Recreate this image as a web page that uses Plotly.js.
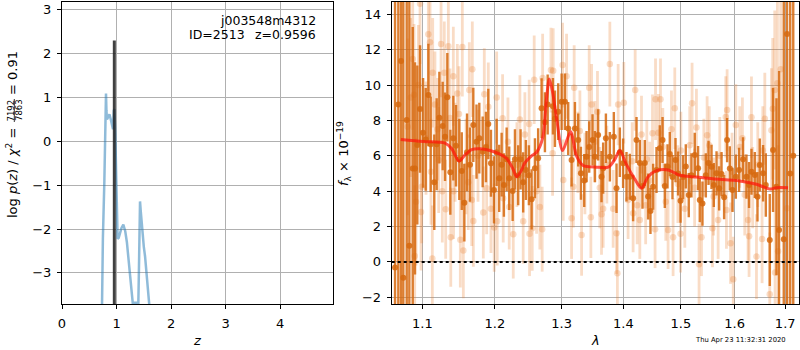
<!DOCTYPE html>
<html><head><meta charset="utf-8">
<script src="https://cdn.plot.ly/plotly-3.0.1.min.js"></script>
<style>html,body{margin:0;padding:0;background:#fff}#chart{width:800px;height:350px}</style>
</head><body><div id="chart"></div>
<script>
// ---------- left panel: redshift probability ----------
const zGrid = [0.70,0.72,0.73,0.75,0.777,0.79,0.80,0.807,0.815,0.825,0.845,0.87,0.895,0.92,0.935,0.95,0.96,0.975,0.99,1.00,
  1.01,1.02,1.04,1.06,1.09,1.125,1.16,1.19,1.217,1.26,1.297,1.34,1.37,1.40,1.41,1.42,1.431,1.445,1.47,1.50,
  1.523,1.56,1.60,1.63];
const logPz = [-7,-5,-3.7,-2.2,-0.9,0.5,1.0,1.09,0.7,0.5,0.55,0.62,0.5,0.3,0.28,0.7,0.74,0.3,-0.6,-1.3,
  -2.0,-2.22,-2.2,-2.12,-1.98,-1.9,-2.05,-2.3,-2.62,-3.2,-3.68,-3.68,-3.68,-3.68,-3.0,-2.0,-1.37,-1.6,-2.05,-2.4,
  -2.62,-3.2,-3.72,-6];
const zBest = 0.9596;
const zBestTop = 2.3;
const zTicks = [0,1,2,3,4];
const lnpTicks = [-3,-2,-1,0,1,2,3];

// ---------- right panel: spectrum ----------
const darkWave = [
 1.0646,1.0688,1.0723,1.0752,1.0796,1.0830,1.0874,1.0904,1.0934,1.0970,
 1.1010,1.1045,1.1080,1.1111,1.1159,1.1191,1.1227,1.1272,1.1304,1.1335,
 1.1376,1.1417,1.1454,1.1499,1.1533,1.1569,1.1606,1.1648,1.1694,1.1739,
 1.1778,1.1826,1.1873,1.1906,1.1944,1.1987,1.2026,1.2063,1.2098,1.2131,
 1.2171,1.2209,1.2259,1.2293,1.2341,1.2376,1.2415,1.2455,1.2500,1.2541,
 1.2591,1.2640,1.2692,1.2743,1.2785,1.2866,1.2897,1.2948,1.3001,1.3052,
 1.3104,1.3157,1.3210,1.3262,1.3305,1.3358,1.3396,1.3438,1.3492,1.3530,
 1.3583,1.3638,1.3665,1.3710,1.3775,1.3841,1.3886,1.3941,1.3996,1.4053,
 1.4109,1.4165,1.4223,1.4279,1.4325,1.4365,1.4422,1.4463,1.4509,1.4568,
 1.4626,1.4674,1.4714,1.4762,1.4802,1.4850,1.4904,1.4951,1.4994,1.5040,
 1.5089,1.5143,1.5192,1.5252,1.5313,1.5344,1.5394,1.5456,1.5506,1.5562,
 1.5605,1.5656,1.5705,1.5750,1.5799,1.5856,1.5907,1.5959,1.6022,1.6085,
 1.6162,1.6228,1.6279,1.6326,1.6391,1.6444,1.6489,1.6555,1.6609,1.6688,
 1.6754,1.6823,1.6875,1.6971,1.7038,1.7103,1.7165];
const darkFlux = [
 -0.32,8.9,11.36,-0.89,8.02,0.92,5.29,5.29,6.61,8.65,
 7.3,6.93,9.44,6.65,4.5,6.65,8.16,7.69,7.08,9.31,
 5.07,7.0,6.57,5.8,5.14,3.35,6.2,5.5,7.75,6.8,
 7.0,6.23,6.5,7.8,5.58,4.07,6.2,4.73,5.5,4.35,
 5.8,4.73,4.01,5.8,4.9,5.8,4.5,5.2,4.9,3.54,
 5.3,5.86,8.69,7.9,8.9,8.8,8.1,8.5,9.06,9.06,
 7.55,5.76,7.55,6.9,5.01,4.6,5.95,6.5,6.9,5.95,
 7.18,4.82,5.3,7.0,5.95,7.08,4.16,6.2,5.58,4.82,
 4.82,3.6,6.9,5.6,4.3,5.6,3.7,2.88,4.25,5.2,
 6.43,6.9,4.3,5.4,6.1,4.8,5.76,5.0,3.46,4.8,
 5.4,3.78,4.9,6.05,5.3,3.5,3.3,4.9,5.6,5.38,
 4.35,5.01,4.16,4.97,3.66,6.89,5.29,4.07,4.82,5.2,
 5.8,4.82,4.35,5.1,4.92,3.69,5.48,5.01,4.35,1.24,
 6.33,4.25,1.8,1.28,12.89,5.0,6.0];
const darkErr = [
 20,20,20,20,14,14,8,6,4.5,3.6,
 3.1,2.9,2.9,2.7,2.7,2.6,2.6,2.5,2.5,2.5,
 2.4,2.4,2.3,2.3,2.2,2.2,2.2,2.1,2.1,2.1,
 2.0,2.0,2.0,2.0,1.9,1.9,1.9,1.9,1.8,1.8,
 1.8,1.8,1.7,1.7,1.7,1.7,1.7,1.7,1.7,1.7,
 1.7,1.7,1.7,1.7,1.7,1.6,1.6,1.6,1.6,1.6,
 1.5,1.5,1.5,1.5,1.5,1.5,1.45,1.45,1.45,1.45,
 1.45,1.45,1.45,1.4,1.4,1.4,1.4,1.4,1.4,1.4,
 1.3,1.3,1.3,1.3,1.3,1.3,1.3,1.3,1.3,1.3,
 1.3,1.3,1.25,1.25,1.25,1.25,1.25,1.25,1.25,1.25,
 1.25,1.25,1.25,1.25,1.25,1.25,1.25,1.25,1.25,1.25,
 1.25,1.25,1.25,1.25,1.25,1.25,1.25,1.25,1.25,1.25,
 1.25,1.25,1.3,1.3,1.3,1.4,1.5,1.6,1.8,2.6,
 3.5,5,9,16,16,20,20];

const lightWave = [
 1.0809,1.0848,1.0874,1.0891,1.0900,1.0917,1.0948,1.0970,1.0983,1.0992,
 1.1049,1.1080,1.1102,1.1115,1.1133,1.1138,1.1168,1.1204,1.1218,1.1250,
 1.1267,1.1294,1.1313,1.1349,1.1372,1.1382,1.1417,1.1420,1.1441,1.1472,
 1.1495,1.1513,1.1541,1.1555,1.1592,1.1624,1.1638,1.1672,1.1680,1.1694,
 1.1760,1.1835,1.1849,1.1883,1.1906,1.1944,1.1991,1.2026,1.2034,1.2112,
 1.2121,1.2190,1.2209,1.2268,1.2322,1.2366,1.2415,1.2440,1.2504,1.2510,
 1.2550,1.2580,1.2616,1.2666,1.2701,1.2708,1.2835,1.2861,1.2870,1.3016,
 1.3026,1.3078,1.3157,1.3185,1.3198,1.3257,1.3289,1.3316,1.3369,1.3438,
 1.3465,1.3477,1.3530,1.3572,1.3610,1.3638,1.3665,1.3726,1.3775,1.3830,
 1.3886,1.3900,1.3913,1.4008,1.4080,1.4150,1.4165,1.4200,1.4234,1.4279,
 1.4308,1.4380,1.4400,1.4450,1.4498,1.4543,1.4551,1.4600,1.4638,1.4679,
 1.4731,1.4772,1.4832,1.4861,1.4891,1.4946,1.4994,1.5000,1.5071,1.5161,
 1.5203,1.5250,1.5283,1.5331,1.5376,1.5419,1.5480,1.5520,1.5580,1.5600,
 1.5686,1.5717,1.5830,1.5843,1.5856,1.5921,1.5950,1.5973,1.6022,1.6098,
 1.6150,1.6195,1.6259,1.6279,1.6326,1.6350,1.6424,1.6450,1.6535,1.6550,
 1.6589,1.6688,1.6722,1.6748,1.6788,1.6795,1.6842,1.6855,1.6909,1.7038];
const lightFlux = [
 7.64,9.3,11.47,9.45,0.34,3.4,10.0,14.6,2.82,4.25,
 7.0,12.87,12.42,5.1,0.19,10.7,8.9,7.5,5.76,12.32,
 4.0,10.7,2.98,12.2,8.14,1.39,10.5,4.0,6.2,9.53,
 8.37,1.25,12.15,0.64,5.4,4.5,9.72,3.5,10.9,2.32,
 6.0,2.8,9.48,4.16,8.78,3.0,1.94,9.3,2.3,8.12,
 3.6,6.8,3.1,1.56,5.5,8.06,2.3,7.2,7.8,1.6,
 1.9,10.3,4.0,3.1,1.85,10.4,10.85,6.14,10.81,11.13,
 4.63,10.5,2.47,4.25,9.85,6.2,7.4,1.52,5.0,9.85,
 2.52,8.9,6.8,8.5,4.2,2.7,3.0,5.5,11.19,3.0,
 1.62,-0.64,8.9,9.0,3.5,5.7,2.75,9.72,3.2,2.37,
 7.2,3.2,5.8,4.6,7.27,1.85,9.2,7.3,9.2,6.5,
 3.4,1.8,7.5,1.4,8.69,4.4,1.6,6.3,3.0,6.6,
 8.97,4.2,7.6,-0.13,1.4,5.9,7.17,6.6,1.9,3.7,
 2.37,6.0,8.2,2.94,8.59,1.06,5.1,-0.98,7.75,6.5,
 7.0,3.8,2.37,1.45,8.18,4.2,0.3,5.5,1.3,6.3,
 8.1,-1.83,7.45,8.66,9.72,-0.6,10.1,0.6,10.9,3.03];
const lightErr = [
 5.0,4.5,4.0,4.0,4.0,3.6,3.4,3.4,3.3,3.2,
 3.2,3.2,3.0,3.0,3.0,3.1,3.0,2.9,3.0,3.0,
 2.9,2.9,2.8,2.9,2.8,2.8,2.8,2.7,2.8,2.8,
 2.7,2.7,2.8,2.7,2.7,2.7,2.7,2.6,2.7,2.6,
 2.6,2.6,2.6,2.6,2.5,2.5,2.5,2.6,2.5,2.5,
 2.5,2.5,2.4,2.5,2.4,2.5,2.4,2.4,2.5,2.4,
 2.4,2.5,2.4,2.4,2.4,2.5,2.4,2.4,2.4,2.4,
 2.3,2.4,2.3,2.3,2.4,2.3,2.3,2.3,2.3,2.4,
 2.3,2.3,2.3,2.3,2.3,2.3,2.2,2.2,2.4,2.2,
 2.3,2.4,2.3,2.3,2.2,2.2,2.2,2.3,2.2,2.2,
 2.2,2.2,2.2,2.2,2.2,2.2,2.3,2.2,2.3,2.2,
 2.2,2.2,2.2,2.2,2.3,2.2,2.2,2.2,2.2,2.2,
 2.3,2.2,2.2,2.3,2.2,2.2,2.2,2.2,2.2,2.2,
 2.2,2.2,2.3,2.2,2.3,2.3,2.2,2.4,2.3,2.3,
 2.3,2.3,2.3,2.3,2.3,2.3,2.4,2.4,2.5,2.5,
 2.6,3.5,3.5,4,4.5,5,5.5,6,7,9];

const modelWave = [1.0719,1.1014,1.1304,1.1395,1.1495,1.1579,1.1670,1.1788,1.1930,1.2073,
 1.2171,1.2259,1.2317,1.2391,1.2440,1.2541,1.2616,1.2708,1.2769,1.2810,
 1.2861,1.2923,1.3016,1.3141,1.3235,1.3340,1.3557,1.3750,1.3858,1.3941,
 1.4053,1.4190,1.4308,1.4422,1.4568,1.4772,1.4981,1.5283,1.5586,1.6098,
 1.6424,1.6688,1.6823,1.7058];
const modelFlux = [6.93,6.81,6.72,6.4,5.7,6.05,6.35,6.4,6.3,6.1,
 5.85,5.3,4.82,5.2,5.6,6.0,6.2,7.0,9.3,10.35,
 9.6,8.1,6.3,7.36,6.0,5.45,5.36,5.36,5.8,6.3,
 5.5,4.7,4.16,4.82,5.16,5.2,4.9,4.8,4.7,4.58,
 4.39,4.12,4.2,4.2];
const waveTicks = [1.1,1.2,1.3,1.4,1.5,1.6,1.7];
const waveTickText = ['1.1','1.2','1.3','1.4','1.5','1.6','1.7'];
const fluxTicks = [-2,0,2,4,6,8,10,12,14];

// ---------- texts ----------
const rootName = 'j003548m4312';
const idLeft = 'ID=2513';
const idRight = 'z=0.9596';
const stamp = 'Thu Apr 23 11:32:31 2020';

const F = 'DejaVu Sans';
const darkCol = 'rgba(214,104,14,0.85)';
const lightCol = 'rgba(232,125,45,0.27)';

const traces = [
  {x: zGrid, y: logPz, xaxis:'x', yaxis:'y', mode:'lines', type:'scatter',
   line:{color:'rgba(31,119,180,0.5)', width:2.5}, hoverinfo:'skip'},
  {x: [zBest, zBest], y: [-4, zBestTop], xaxis:'x', yaxis:'y', mode:'lines', type:'scatter',
   line:{color:'rgba(30,30,30,0.85)', width:3}, hoverinfo:'skip'},
  {x: lightWave, y: lightFlux, xaxis:'x2', yaxis:'y2', mode:'markers', type:'scatter',
   marker:{color:lightCol, size:6.5}, error_y:{type:'data', array:lightErr, visible:true, color:lightCol, thickness:2.8, width:0}},
  {x: darkWave, y: darkFlux, xaxis:'x2', yaxis:'y2', mode:'markers', type:'scatter',
   marker:{color:darkCol, size:6}, error_y:{type:'data', array:darkErr, visible:true, color:darkCol, thickness:2.4, width:0}},
  {x: modelWave, y: modelFlux, xaxis:'x2', yaxis:'y2', mode:'lines', type:'scatter',
   line:{color:'rgba(255,20,10,0.72)', width:3, shape:'spline', smoothing:0.8}}
];

const ax = {showline:true, mirror:true, linecolor:'black', linewidth:1, ticks:'outside', ticklen:4, tickwidth:1,
  tickcolor:'black', showgrid:true, gridcolor:'#b0b0b0', gridwidth:1, zeroline:false, ticklabelstandoff:3,
  tickfont:{family:F, size:13, color:'black'}, fixedrange:true};
const yDom = [46/350, 348/350];

const layout = {
  width:800, height:350, margin:{l:0,r:0,t:0,b:0}, showlegend:false,
  paper_bgcolor:'white', plot_bgcolor:'white', font:{family:F, color:'black'},
  xaxis: Object.assign({}, ax, {domain:[62/800, 333/800], range:[0,4.97], tickvals:zTicks, anchor:'y'}),
  yaxis: Object.assign({}, ax, {domain:yDom, range:[-3.71,3.18], tickvals:lnpTicks, anchor:'x'}),
  xaxis2: Object.assign({}, ax, {domain:[391.7/800, 798.5/800], type:'log', range:[0.02544,0.23738],
     tickvals:waveTicks, ticktext:waveTickText, anchor:'y2'}),
  yaxis2: Object.assign({}, ax, {domain:yDom, range:[-2.38,14.70], tickvals:fluxTicks, anchor:'x2'}),
  shapes: [
    {type:'line', xref:'x2 domain', x0:0, x1:1, yref:'y2', y0:0, y1:0, line:{color:'black', width:2, dash:'dot'}},
    {type:'line', xref:'paper', yref:'paper', x0:14.3/800, x1:14.3/800, y0:(350-122)/350, y1:(350-99)/350, line:{color:'black', width:0.8}}
  ],
  annotations: [
    {xref:'paper', yref:'paper', x:318/800, y:(350-20)/350, xanchor:'right', yanchor:'middle', showarrow:false,
     text:rootName, font:{family:F, size:12.5, color:'black'}},
    {xref:'paper', yref:'paper', x:247/800, y:(350-34.5)/350, xanchor:'right', yanchor:'middle', showarrow:false,
     text:idLeft, font:{family:F, size:12.5, color:'black'}},
    {xref:'paper', yref:'paper', x:318/800, y:(350-34.5)/350, xanchor:'right', yanchor:'middle', showarrow:false,
     text:idRight, font:{family:F, size:12.5, color:'black'}},
    {xref:'paper', yref:'paper', x:12/800, y:(350-126)/350, xanchor:'center', yanchor:'top', showarrow:false, textangle:-90,
     text:'log <i>p</i>(<i>z</i>) / <i>χ</i><sup>2</sup> =', font:{family:F, size:13, color:'black'}},
    {xref:'paper', yref:'paper', x:10/800, y:(350-110.5)/350, xanchor:'center', yanchor:'middle', showarrow:false, textangle:-90,
     text:'7192', font:{family:F, size:8.5, color:'black'}},
    {xref:'paper', yref:'paper', x:18.5/800, y:(350-110.5)/350, xanchor:'center', yanchor:'middle', showarrow:false, textangle:-90,
     text:'7863', font:{family:F, size:8.5, color:'black'}},
    {xref:'paper', yref:'paper', x:12/800, y:(350-97)/350, xanchor:'center', yanchor:'bottom', showarrow:false, textangle:-90,
     text:'= 0.91', font:{family:F, size:13, color:'black'}},
    {xref:'paper', yref:'paper', x:197/800, y:(350-340)/350, xanchor:'center', yanchor:'middle', showarrow:false,
     text:'<i>z</i>', font:{family:F, size:13, color:'black'}},
    {xref:'paper', yref:'paper', x:595/800, y:(350-340)/350, xanchor:'center', yanchor:'middle', showarrow:false,
     text:'<i>λ</i>', font:{family:F, size:13, color:'black'}},
    {xref:'paper', yref:'paper', x:344/800, y:(350-154)/350, xanchor:'center', yanchor:'middle', showarrow:false, textangle:-90,
     text:'<i>f</i><sub>λ</sub> × 10<sup>−19</sup>', font:{family:F, size:13, color:'black'}},
    {xref:'paper', yref:'paper', x:788/800, y:(350-340)/350, xanchor:'right', yanchor:'middle', showarrow:false,
     text:stamp, font:{family:F, size:6.8, color:'black'}}
  ]
};

Plotly.newPlot('chart', traces, layout, {staticPlot:true, displayModeBar:false});
</script></body></html>
